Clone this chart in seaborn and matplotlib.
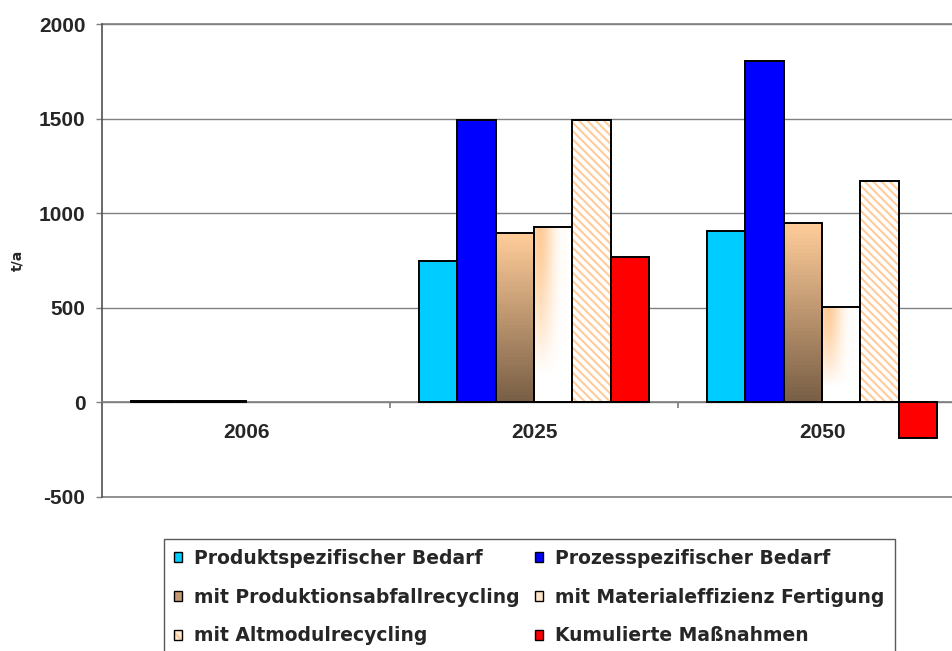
"""Material demand scenarios 2006 / 2025 / 2050 as grouped bars."""

import matplotlib

matplotlib.use("Agg")

import matplotlib.pyplot as plt
import numpy as np
import pandas as pd
import seaborn as sns
from matplotlib.legend_handler import HandlerTuple
from matplotlib.patches import Patch, Rectangle
from matplotlib.ticker import FixedLocator

years = ["2006", "2025", "2050"]
series = [
    "Produktspezifischer Bedarf",
    "Prozesspezifischer Bedarf",
    "mit Produktionsabfallrecycling",
    "mit Materialeffizienz Fertigung",
    "mit Altmodulrecycling",
    "Kumulierte Maßnahmen",
]
produkt = [8, 750, 905]
prozess = [8, 1490, 1805]
produktionsabfall = [8, 895, 950]
materialeffizienz = [np.nan, 925, 505]
altmodul = [np.nan, 1490, 1170]
kumuliert = [np.nan, 770, -190]
y_ticks = [-500, 0, 500, 1000, 1500, 2000]

PEACH = np.array([1.0, 0.8, 0.6])
BROWN = np.array([0.47, 0.37, 0.27])
GRID = "#808080"
TICK_FONT = {"family": ["Liberation Sans", "DejaVu Sans"], "weight": "bold", "size": 15}


def _gradient_vertical(n=48):
    t = np.linspace(0, 1, n)[:, None]
    rgb = PEACH * (1 - t) + BROWN * t
    img = np.ones((n, 2, 4))
    img[:, :, :3] = rgb[:, None, :]
    return img


def _gradient_soft(n=48):
    # row 0 = top of the bar, column 0 = left side
    y = np.linspace(0, 1, n)[:, None]
    x = np.linspace(0, 1, n)[None, :]
    w = np.exp(-((x - 0.15) / 0.35) ** 2) * np.clip(1 - (y / 0.85) ** 1.5, 0, 1)
    img = np.ones((n, n, 4))
    img[:, :, :3] = 1 - w[:, :, None] * (1 - PEACH)
    return img


def _fill_gradient(ax, patch, img):
    bb = patch.get_bbox()
    if not np.all(np.isfinite(bb.extents)) or bb.height == 0:
        return
    rows, cols = img.shape[:2]
    xs = np.linspace(bb.xmin, bb.xmax, cols + 1)
    ys = np.linspace(bb.ymax, bb.ymin, rows + 1)  # first row at the top
    mesh = ax.pcolormesh(
        xs, ys, img, shading="flat", linewidth=0, antialiased=False,
        zorder=patch.get_zorder() - 0.05,
    )
    mesh.set_clip_path(patch)
    patch.set_facecolor("none")


def main() -> None:
    sns.set_theme(style="white")
    plt.rcParams["font.family"] = ["Liberation Sans", "DejaVu Sans"]
    plt.rcParams["hatch.linewidth"] = 1.5

    values = [produkt, prozess, produktionsabfall, materialeffizienz, altmodul, kumuliert]
    rows = []
    for name, vals in zip(series, values):
        for year, v in zip(years, vals):
            rows.append({"Jahr": year, "Reihe": name, "Wert": v})
    df = pd.DataFrame(rows)

    palette = {
        series[0]: "#00CCFF",
        series[1]: "#0000FF",
        series[2]: "#C49A74",
        series[3]: "#FDE3C8",
        series[4]: "#FFFFFF",
        series[5]: "#FF0000",
    }

    fig = plt.figure(figsize=(9.52, 6.51), dpi=100)
    ax = fig.add_axes([102 / 952, 1 - 497 / 651, 864 / 952, 473 / 651])

    sns.barplot(
        data=df,
        x="Jahr",
        y="Wert",
        hue="Reihe",
        hue_order=series,
        order=years,
        palette=palette,
        errorbar=None,
        width=0.8,
        saturation=1,
        edgecolor="black",
        linewidth=1.4,
        legend=False,
        ax=ax,
        zorder=3,
    )

    for idx, cont in enumerate(ax.containers):
        for p in cont.patches:
            p.set_zorder(3)
            if idx == 2:
                _fill_gradient(ax, p, _gradient_vertical())
            elif idx == 3:
                _fill_gradient(ax, p, _gradient_soft())
            elif idx == 4:
                h = p.get_height()
                if not np.isfinite(h):
                    continue
                p.set_facecolor("white")
                p.set_edgecolor(PEACH)
                p.set_hatch("\\\\\\\\")
                p.set_linewidth(0)
                ax.add_patch(
                    Rectangle(
                        (p.get_x(), p.get_y()), p.get_width(), h,
                        fill=False, edgecolor="black", linewidth=1.4, zorder=3.1,
                    )
                )

    ax.set_xlim(-0.5, 2.5)
    ax.set_ylim(-500, 2000)
    ax.set_yticks(y_ticks)
    ax.set_yticklabels([str(t) for t in y_ticks], fontdict=TICK_FONT)
    ax.tick_params(axis="y", direction="out", length=4, width=1, color=GRID, pad=8, left=True)

    ax.grid(axis="y", color=GRID, linewidth=1)
    ax.set_axisbelow(True)
    ax.axhline(-500, color=GRID, linewidth=1.2, clip_on=False, zorder=1)
    ax.axhline(2000, color=GRID, linewidth=1.2, clip_on=False, zorder=1)

    ax.spines["bottom"].set_position(("data", 0))
    ax.spines["bottom"].set_color(GRID)
    ax.spines["bottom"].set_linewidth(1.2)
    ax.spines["bottom"].set_zorder(2.5)
    ax.spines["left"].set_color("#505050")
    ax.spines["left"].set_linewidth(1.2)
    ax.spines["top"].set_visible(False)
    ax.spines["right"].set_visible(False)

    ax.xaxis.set_major_locator(FixedLocator([0.5, 1.5]))
    ax.xaxis.set_minor_locator(FixedLocator([0, 1, 2]))
    ax.set_xticklabels([], minor=False)
    ax.set_xticklabels(years, minor=True, fontdict=TICK_FONT)
    ax.tick_params(axis="x", which="major", direction="out", length=4, color=GRID, bottom=True)
    ax.tick_params(axis="x", which="minor", length=0, pad=14.5)

    ax.set_xlabel("")
    ax.set_ylabel("t/a", fontsize=10, fontweight="bold", family="DejaVu Sans")
    ax.yaxis.set_label_coords(-0.09, 0.5)

    hatch_handle = (
        Patch(facecolor="#FFEBD6", edgecolor=PEACH, hatch="\\\\\\\\", linewidth=0),
        Patch(fill=False, edgecolor="black", linewidth=1),
    )
    handles = [
        Patch(facecolor="#00CCFF", edgecolor="black"),
        Patch(facecolor="#0000FF", edgecolor="black"),
        Patch(facecolor="#C49A74", edgecolor="black"),
        Patch(facecolor="#FDE3C8", edgecolor="black"),
        hatch_handle,
        Patch(facecolor="#FF0000", edgecolor="black"),
    ]
    # matplotlib fills legend columns first; reorder so rows read left to right
    order = [0, 2, 4, 1, 3, 5]
    leg = fig.legend(
        [handles[i] for i in order],
        [series[i] for i in order],
        loc="upper left",
        bbox_to_anchor=(164 / 952, 1 - 539 / 651),
        ncol=2,
        frameon=True,
        fancybox=False,
        edgecolor="#303030",
        prop={"family": "DejaVu Sans", "weight": "bold", "size": 13.5},
        handlelength=0.43,
        handleheight=0.43,
        handletextpad=0.63,
        columnspacing=0.85,
        labelspacing=1.05,
        borderpad=0.53,
        borderaxespad=0,
        handler_map={tuple: HandlerTuple(ndivide=1, pad=0)},
    )
    leg.get_frame().set_linewidth(1)

    fig.savefig("out.png", dpi=100)
    plt.close(fig)


if __name__ == "__main__":
    main()
